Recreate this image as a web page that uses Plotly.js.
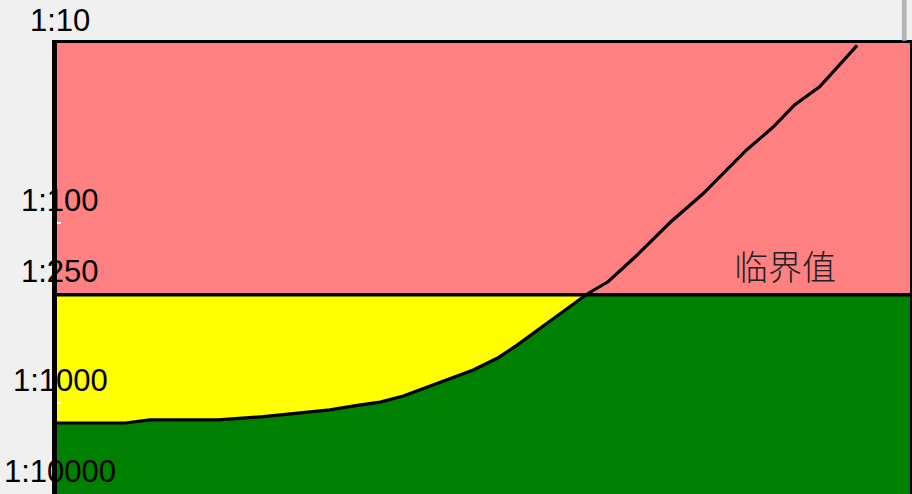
<!DOCTYPE html>
<html>
<head>
<meta charset="utf-8">
<script src="https://cdn.plot.ly/plotly-3.0.1.min.js"></script>
<style>
  html, body { margin: 0; padding: 0; background: #f0f0f0; overflow: hidden; }
  #chart { width: 912px; height: 494px; }
</style>
</head>
<body>
<div id="chart"></div>
<script>
// curve samples: position along x (0..100) and ratio denominator (1:N)
const xPos = [0, 8.0, 10.9, 18.9, 24.2, 28.5, 32.0, 35.2, 37.9, 40.6, 43.4, 46.1, 48.8,
              51.6, 53.9, 56.6, 59.3, 62.2, 64.6, 67.8, 71.9, 75.7, 80.9, 83.9, 86.5, 89.4, 93.8];
const ratioDen = [1290, 1290, 1240, 1240, 1190, 1135, 1090, 1030, 987, 914, 816, 737, 655,
                  564, 478, 385, 310, 247, 212, 154, 99, 69, 39, 29.5, 22, 17.5, 10.3];

const thresholdDen = 250;
const thresholdLabel = '临界值';
const tickDen = [10, 100, 250, 1000];
const tickText = ['1:10', '1:100', '1:250', '1:1000'];
const bottomLabel = '1:10000';

const xRange = [0, 100];
const yLogRange = [-3.505, -1];

const ys = ratioDen.map(n => 1 / n);
const thr = 1 / thresholdDen;
const yTop = Math.pow(10, yLogRange[1]);
const xFirst = xPos[0], xLast = xPos[xPos.length - 1];

const inv = { mode: 'lines', line: { width: 0 }, hoverinfo: 'skip', showlegend: false };
const traces = [
    // yellow zone between curve and threshold
    { ...inv, x: xPos, y: ys },
    { ...inv, x: [xFirst, xLast], y: [thr, thr], fill: 'tonexty', fillcolor: '#ffff00' },
    // red zone above threshold
    { ...inv, x: xRange, y: [thr, thr] },
    { ...inv, x: xRange, y: [yTop, yTop], fill: 'tonexty', fillcolor: '#ff8080' },
    // the curve itself
    { x: xPos, y: ys, mode: 'lines', line: { color: '#000', width: 3.2 }, hoverinfo: 'skip', showlegend: false },
];

const labelFont = { family: 'Liberation Sans, Arial, sans-serif', size: 31, color: '#000' };
const annotations = tickDen.map((n, i) => ({
    xref: 'paper', x: 0, xshift: 3, yref: 'y', y: Math.log10(1 / n), yshift: 23,
    text: tickText[i], showarrow: false, xanchor: 'center', yanchor: 'middle', font: labelFont,
}));
annotations.push({
    xref: 'paper', x: 0, xshift: 3, yref: 'paper', y: 0, yshift: 23,
    text: bottomLabel, showarrow: false, xanchor: 'center', yanchor: 'middle', font: labelFont,
});
annotations.push({
    xref: 'paper', x: 0.8535, yref: 'y', y: Math.log10(thr), yshift: 29,
    text: thresholdLabel, showarrow: false, xanchor: 'center', yanchor: 'middle',
    font: { family: 'Noto Sans CJK SC, sans-serif', size: 34, color: '#222', weight: 300 },
});

const layout = {
    width: 912, height: 494,
    margin: { l: 57, r: 2, t: 43, b: 0, pad: 0 },
    paper_bgcolor: '#f0f0f0', plot_bgcolor: '#008000',
    showlegend: false, hovermode: false,
    xaxis: {
        range: xRange, showgrid: false, zeroline: false, showticklabels: false,
        showline: true, side: 'top', linecolor: '#000', linewidth: 3, ticks: '',
    },
    yaxis: {
        type: 'log', range: yLogRange, showgrid: false, zeroline: false, showticklabels: false,
        showline: true, mirror: true, linecolor: '#000', linewidth: 5,
        tickvals: tickDen.map(n => 1 / n), ticks: 'inside', ticklen: 4, tickwidth: 2, tickcolor: '#fff',
    },
    shapes: [
        { type: 'line', xref: 'paper', x0: 0, x1: 1, yref: 'y', y0: thr, y1: thr, line: { color: '#000', width: 3.5 } },
        { type: 'rect', xref: 'paper', x0: 0.9905, x1: 0.996, yref: 'paper', y0: 1.005, y1: 1.1,
          fillcolor: '#b4b4b4', line: { width: 0 } },
    ],
    annotations,
};

Plotly.newPlot('chart', traces, layout, { displayModeBar: false, staticPlot: true });
</script>
</body>
</html>
